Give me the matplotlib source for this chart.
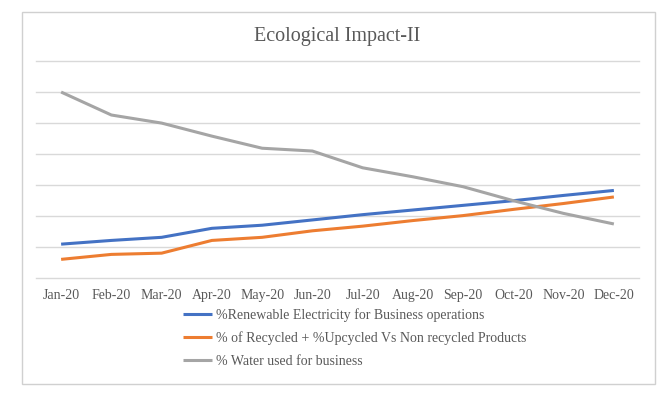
import matplotlib.pyplot as plt
from matplotlib.patches import Rectangle

months = ['Jan-20', 'Feb-20', 'Mar-20', 'Apr-20', 'May-20', 'Jun-20',
          'Jul-20', 'Aug-20', 'Sep-20', 'Oct-20', 'Nov-20', 'Dec-20']
renewable = [1.10, 1.22, 1.32, 1.61, 1.71, 1.88, 2.05, 2.20, 2.35, 2.50, 2.67, 2.83]
recycled = [0.61, 0.77, 0.81, 1.22, 1.32, 1.53, 1.68, 1.86, 2.02, 2.22, 2.41, 2.62]
water = [6.00, 5.26, 5.00, 4.58, 4.19, 4.10, 3.56, 3.27, 2.95, 2.50, 2.09, 1.75]

labels = ['%Renewable Electricity for Business operations',
          '% of Recycled + %Upcycled Vs Non recycled Products',
          '% Water used for business']
colors = ['#4472C4', '#ED7D31', '#A5A5A5']

plt.rcParams['font.family'] = ['Liberation Serif', 'DejaVu Serif']
txt = '#595959'

fig = plt.figure(figsize=(6.62, 3.94), dpi=100)
fig.patches.append(Rectangle((21.5 / 662, 1 - 384.3 / 394), (654.7 - 21.5) / 662,
                             (384.3 - 11.7) / 394, transform=fig.transFigure,
                             fill=False, edgecolor='#d0d0d0', linewidth=1))

ax = fig.add_axes([36 / 662, 1 - 278.3 / 394, (639 - 36) / 662, (278.3 - 61) / 394])
x = list(range(len(months)))
lines = []
for vals, c, lab in zip([renewable, recycled, water], colors, labels):
    l, = ax.plot(x, vals, color=c, linewidth=2.2, label=lab, solid_capstyle='butt')
    lines.append(l)

ax.set_xlim(-0.5, 11.5)
ax.set_ylim(0, 7)
ax.set_yticks(range(8))
ax.set_yticklabels([])
ax.tick_params(axis='y', length=0)
ax.set_xticks(x)
ax.set_xticklabels(months, fontsize=10, color=txt)
ax.tick_params(axis='x', length=0, pad=8)
ax.grid(axis='y', color='#d9d9d9', linewidth=1)
for g in ax.get_ygridlines():
    g.set_clip_on(False)
ax.set_axisbelow(True)
for s in ax.spines.values():
    s.set_visible(False)

fig.text(337.5 / 662, 1 - 37 / 394, 'Ecological Impact-II', ha='center', va='center',
         fontsize=14.5, color=txt)

fig.legend(handles=lines, loc='upper left', bbox_to_anchor=(183 / 662, 1 - 308 / 394),
           frameon=False, fontsize=10, labelcolor=txt, handlelength=2.1,
           handletextpad=0.25, labelspacing=0.7, borderaxespad=0, borderpad=0)

fig.savefig('out.png', dpi=100)
